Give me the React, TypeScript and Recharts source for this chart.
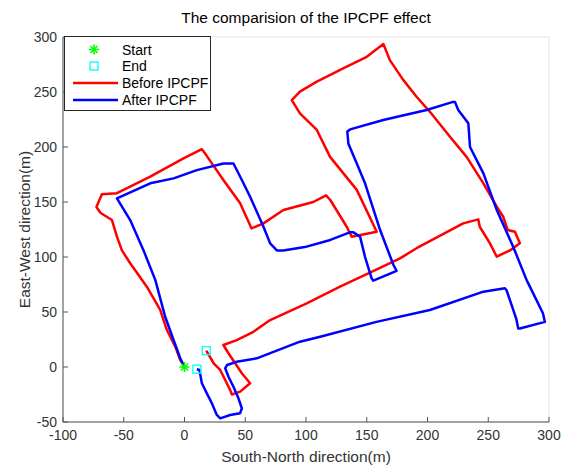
import { ComposedChart, Line, Scatter, XAxis, YAxis, CartesianGrid, Legend } from "recharts";

// axis ticks (m)
const xTicks = [-100, -50, 0, 50, 100, 150, 200, 250, 300];
const yTicks = [-50, 0, 50, 100, 150, 200, 250, 300];

// trajectory before IPCPF, [south-north, east-west]
const beforePath: [number, number][] = [
  [0, 0], [-3.5, 6.4], [-7.6, 18.5], [-14.5, 33.6], [-20, 52], [-31, 73], [-44.7, 94.3],
  [-51.5, 106], [-55.6, 118.5], [-59.7, 133.6], [-69, 140], [-72.5, 145.5], [-68, 157],
  [-55.6, 158], [-28.2, 173], [-0.8, 189.7], [14.3, 198], [17, 194], [32, 170],
  [45.8, 148.8], [55.2, 126], [65, 130.6], [81.4, 142.7], [106, 150], [116.5, 156],
  [120, 151.8], [133.5, 127.5], [137.6, 118.5], [158.2, 123], [141.8, 161], [119.8, 191],
  [108.9, 215.5], [95, 230.6], [88.3, 242.7], [95, 250.3], [108.9, 259.4], [133.5, 273],
  [150, 282], [163.7, 293.6], [169, 279], [180, 261], [191, 245.7], [202, 232],
  [218.5, 209.4], [232.2, 191], [246, 167], [257, 145.7], [262.3, 136.6], [266, 124.5],
  [272, 123], [276, 112.5], [267.8, 106], [257, 100.3], [251.4, 112.4], [243, 127.5],
  [241.8, 134.2], [229.4, 130.6], [191, 108], [177.4, 98.8], [151.3, 85.2], [128, 73],
  [100.6, 57.9], [70.5, 42.7], [56.7, 32], [43, 24.5], [32, 20], [36.2, 12.5],
  [41.7, 3.4], [47.2, -5.7], [54, -14.8], [45.8, -22.4], [39, -25], [37.6, -21],
  [33.5, -11.8], [29.4, -2.7], [24, 3.4], [17.9, 14.8],
];

// trajectory after IPCPF
const afterPath: [number, number][] = [
  [0, 0], [-3.5, 8], [-9, 24.5], [-15.9, 45.7], [-24, 79], [-33.7, 106], [-44.7, 133.6],
  [-55.6, 153.3], [-28.2, 167], [-9, 171.5], [10.2, 179], [32, 185], [40.3, 185],
  [47.2, 170], [54, 154.8], [65, 127.5], [70.5, 112.4], [76, 106], [81.4, 106], [99, 109],
  [120, 115.5], [136, 122.4], [139, 122.4], [144.5, 118.5], [148.6, 100], [154, 80.6],
  [155.4, 78.5], [174.6, 87.3], [172, 92.7], [161, 124.5], [148.6, 167], [141.8, 185],
  [134.9, 203], [134, 214], [136.3, 216], [163.6, 224.5], [199.3, 233.6], [221, 241],
  [222.6, 241], [225.3, 233.6], [233.6, 221.5], [235, 200], [246, 176], [257, 142.7],
  [270.5, 109.4], [281.6, 79], [295, 48.8], [296.6, 41], [276, 35], [274.7, 35],
  [273, 44], [265, 70], [263.7, 71.5], [246, 68.5], [202, 51.8], [158, 41], [111.7, 27.5],
  [95, 23], [59.5, 7.9], [43, 4.8], [35, 1.8], [33.5, -1.2], [36.2, -8.8], [40.3, -18],
  [44.4, -28.5], [47.2, -37.5], [45.8, -42], [37.6, -43.6], [29.4, -46.7], [26.6, -43.6],
  [22.5, -33], [18.4, -24], [14.3, -14.8], [12.3, -2.7], [10.2, -2],
];

const startPoints: [number, number][] = [[0, 0]];
const endPoints: [number, number][] = [[17.9, 14.8], [10.2, -2]];

const legendNames = ["Start", "End", "Before IPCPF", "After IPCPF"];

const FONT = "'Liberation Sans', Arial, Helvetica, sans-serif";
const RED = "#ff0000";
const BLUE = "#0000ff";
const GREEN = "#00ff00";
const CYAN = "#00ffff";

const toRows = (pts: [number, number][]) => pts.map(([x, y]) => ({ x, y }));

function StarMark({ cx, cy }: any) {
  const r = 5;
  const d = r * 0.7;
  return (
    <g stroke={GREEN} strokeWidth={1.6}>
      <line x1={cx - r} y1={cy} x2={cx + r} y2={cy} />
      <line x1={cx} y1={cy - r} x2={cx} y2={cy + r} />
      <line x1={cx - d} y1={cy - d} x2={cx + d} y2={cy + d} />
      <line x1={cx - d} y1={cy + d} x2={cx + d} y2={cy - d} />
    </g>
  );
}

function SquareMark({ cx, cy }: any) {
  return <rect x={cx - 4} y={cy - 4} width={8} height={8} fill="none" stroke={CYAN} strokeWidth={1.3} />;
}

// MATLAB style legend box in the upper left corner
function LegendBox() {
  const rowY = [13.5, 30, 47, 64];
  return (
    <svg width={147} height={75} style={{ display: "block" }}>
      <rect x={0.5} y={0.5} width={146} height={74} fill="#fff" stroke="#262626" strokeWidth={1} />
      <StarMark cx={30} cy={rowY[0]} />
      <SquareMark cx={30} cy={rowY[1]} />
      <line x1={9} y1={rowY[2]} x2={54} y2={rowY[2]} stroke={RED} strokeWidth={2.5} />
      <line x1={9} y1={rowY[3]} x2={54} y2={rowY[3]} stroke={BLUE} strokeWidth={2.5} />
      {legendNames.map((n, i) => (
        <text key={n} x={58} y={rowY[i] + 5} fontSize={14} fontFamily={FONT} fill="#000">
          {n}
        </text>
      ))}
    </svg>
  );
}

export default function App() {
  const tickStyle = { fill: "#333", fontSize: 14, fontFamily: FONT };
  return (
    <div style={{ position: "absolute", left: 0, top: 0, width: 565, height: 465, background: "#fff" }}>
      <div
        style={{
          position: "absolute", top: 9, left: 63, width: 486, textAlign: "center",
          fontFamily: FONT, fontSize: 15.5, color: "#000", lineHeight: "18px",
        }}
      >
        The comparision of the IPCPF effect
      </div>
      <ComposedChart width={565} height={465} margin={{ top: 37, right: 16, bottom: 0, left: 0 }}>
        <CartesianGrid stroke="#e3e3e3" strokeWidth={1} />
        <XAxis
          xAxisId="b" type="number" dataKey="x" domain={[-100, 300]} ticks={xTicks}
          allowDataOverflow height={43} tick={tickStyle} tickSize={-5} tickMargin={13}
          stroke="#555" interval={0}
          label={{ value: "South-North direction(m)", position: "insideBottom", offset: 3, fill: "#333", fontSize: 15.5, fontFamily: FONT }}
        />
        <XAxis
          xAxisId="t" orientation="top" type="number" dataKey="x" domain={[-100, 300]} ticks={xTicks}
          height={0} tick={() => <g />} tickSize={-5} stroke="#555"
        />
        <YAxis
          yAxisId="l" type="number" domain={[-50, 300]} ticks={yTicks} allowDataOverflow width={63}
          tick={tickStyle} tickSize={-5} tickMargin={11} stroke="#555" interval={0}
          label={{ value: "East-West direction(m)", angle: -90, position: "insideLeft", offset: 24, fill: "#333", fontSize: 15.5, fontFamily: FONT, style: { textAnchor: "middle" } }}
        />
        <YAxis
          yAxisId="r" orientation="right" type="number" domain={[-50, 300]} ticks={yTicks}
          width={0} tick={() => <g />} tickSize={-5} stroke="#555"
        />
        <Line
          xAxisId="b" yAxisId="l" data={toRows(beforePath)} dataKey="y" type="linear"
          stroke={RED} strokeWidth={2.5} dot={false} isAnimationActive={false} strokeLinejoin="round"
        />
        <Line
          xAxisId="b" yAxisId="l" data={toRows(afterPath)} dataKey="y" type="linear"
          stroke={BLUE} strokeWidth={2.5} dot={false} isAnimationActive={false} strokeLinejoin="round"
        />
        <Scatter xAxisId="b" yAxisId="l" data={toRows(startPoints)} dataKey="y" shape={StarMark} isAnimationActive={false} />
        <Scatter xAxisId="b" yAxisId="l" data={toRows(endPoints)} dataKey="y" shape={SquareMark} isAnimationActive={false} />
        <Legend
          layout="vertical" align="center" verticalAlign="middle"
          wrapperStyle={{ left: 64, top: 36, width: 147, height: 75 }}
          content={() => <LegendBox />}
        />
      </ComposedChart>
    </div>
  );
}
